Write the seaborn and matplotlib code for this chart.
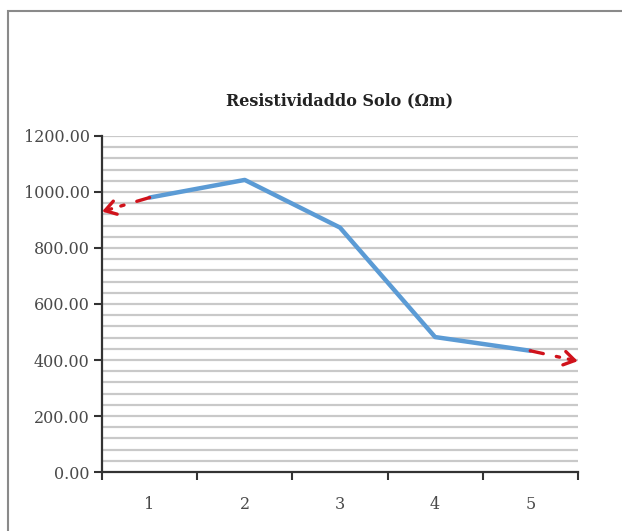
import matplotlib
matplotlib.use("Agg")
import matplotlib.pyplot as plt
from matplotlib.patches import Rectangle
import seaborn as sns
import pandas as pd
import numpy as np

# Measurement points and soil resistivity (Ohm·m)
categories = ["1", "2", "3", "4", "5"]
resistivity = [980, 1043, 873, 482, 433]
# Trend extrapolation values at the left and right axis edges
trend_edges = [930, 396]

sns.set_theme(style="white")
plt.rcParams["font.family"] = ["DejaVu Serif", "Liberation Serif"]

df = pd.DataFrame({"pos": np.arange(len(categories)), "value": resistivity})

fig = plt.figure(figsize=(6.22, 5.31), dpi=100)
ax = fig.add_axes([0.164, 0.111, 0.765, 0.633])

# Light horizontal grid every 40 units
for gy in np.arange(40, 1201, 40):
    ax.axhline(gy, color="#c9c9c9", lw=1.6, zorder=0)

sns.lineplot(data=df, x="pos", y="value", ax=ax, color="#5b9bd5",
             lw=3.2, solid_capstyle="round", zorder=3)


def trend_arrow(x0, y0, x1, y1):
    """Dash-dot trend line ending in a solid open arrowhead."""
    ax.annotate("", xy=(x1, y1), xytext=(x0, y0),
                arrowprops=dict(arrowstyle="-", color="#d0121b", lw=2.4,
                                linestyle=(0, (4, 4, 1, 4)),
                                shrinkA=0, shrinkB=5),
                zorder=4, annotation_clip=False)
    f = 0.2
    ax.annotate("", xy=(x1, y1), xytext=(x1 - f * (x1 - x0), y1 - f * (y1 - y0)),
                arrowprops=dict(arrowstyle="->,head_length=0.55,head_width=0.35",
                                color="#d0121b", lw=2.4,
                                shrinkA=0, shrinkB=0, mutation_scale=14),
                zorder=4, annotation_clip=False)


# Trend arrows beyond the first and last points
trend_arrow(df.pos.iloc[0], resistivity[0], -0.5, trend_edges[0])
trend_arrow(df.pos.iloc[-1], resistivity[-1], 4.5, trend_edges[1])

ax.set_xlim(-0.5, len(categories) - 0.5)
ax.set_ylim(0, 1200)
ax.set_yticks(np.arange(0, 1201, 200))
ax.set_yticklabels([f"{v:.2f}" for v in np.arange(0, 1201, 200)])
ax.set_xticks(np.arange(-0.5, len(categories), 1.0))
ax.set_xticklabels([])
ax.set_xticks(np.arange(len(categories)), minor=True)
ax.set_xticklabels(categories, minor=True)
ax.tick_params(axis="x", which="major", direction="out", length=6, width=1.5,
               color="#333333", bottom=True)
ax.tick_params(axis="x", which="minor", length=0, pad=17, labelsize=11.5,
               labelcolor="#4a4a4a")
ax.tick_params(axis="y", direction="out", length=6, width=1.5, color="#333333",
               left=True, labelsize=11.5, labelcolor="#4a4a4a", pad=3)
ax.set_xlabel("")
ax.set_ylabel("")

for s in ["top", "right"]:
    ax.spines[s].set_visible(False)
for s in ["left", "bottom"]:
    ax.spines[s].set_color("#333333")
    ax.spines[s].set_linewidth(1.6)

ax.set_title("Resistividaddo Solo (Ωm)", fontsize=11.5, fontweight="bold",
             color="#222222", pad=22)

# Outer chart frame
fig.patches.append(Rectangle((8 / 622, -0.1), 1.2, 1 - 11 / 531 + 0.1,
                             transform=fig.transFigure, fill=False,
                             edgecolor="#8a8a8a", lw=1.5))

fig.savefig("out.png", dpi=100)
